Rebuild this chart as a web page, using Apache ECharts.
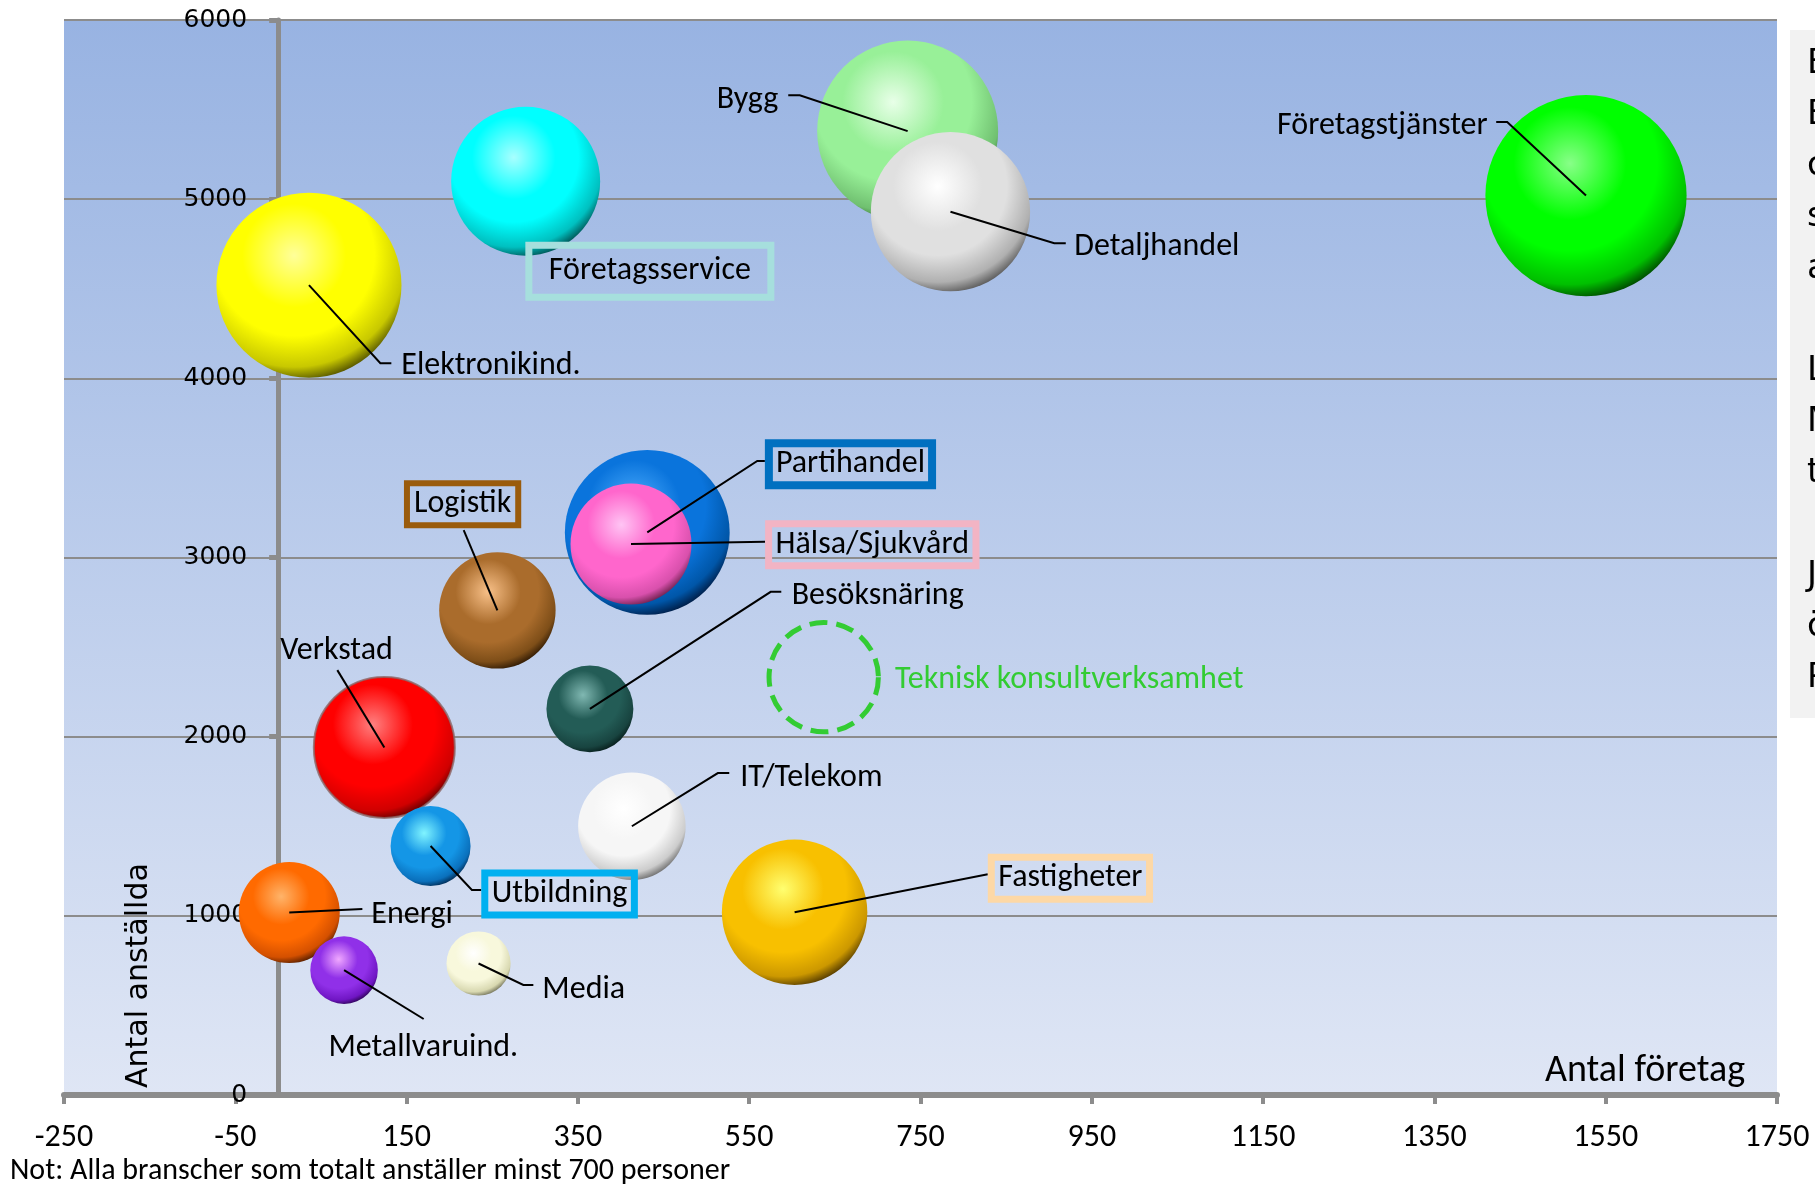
<!DOCTYPE html>
<html><head><meta charset="utf-8">
<script src="https://cdn.jsdelivr.net/npm/echarts@6/dist/echarts.min.js"></script>
<style>html,body{margin:0;padding:0;background:#fff;overflow:hidden}#c{width:1815px;height:1184px}</style>
</head><body><div id="c"></div>
<script>
// ---- data ----
const names = ['Elektronikind.','Företagsservice','Bygg','Detaljhandel','Företagstjänster','Partihandel','Hälsa/Sjukvård','Logistik','Besöksnäring','Verkstad','Utbildning','IT/Telekom','Fastigheter','Energi','Metallvaruind.','Media','Teknisk konsultverksamhet'];
const antalForetag = [36, 289, 735, 785, 1527, 431, 412, 256, 364, 124, 178, 413, 603, 13, 77, 234, 637];
const antalAnstallda = [4520, 5100, 5380, 4930, 5020, 3140, 3075, 2705, 2155, 1940, 1390, 1500, 1020, 1018, 697, 734, 2332];
const bubbleSize = [856, 555, 819, 634, 1012, 679, 366, 339, 189, 497, 160, 289, 529, 255, 114, 103, 299];
const xMin = -250, xMax = 1750, xStep = 200;
const yMin = 0, yMax = 6000, yStep = 1000;
const noteText = 'Not: Alla branscher som totalt anställer minst 700 personer';
const sideText = ['Bubblans storlek','Bubblorna','omsättningen','som andel','av totalen','','Ljusare färg','Markerad ram','tillväxt','','Jämförelse','över tid','Prognos'];

// ---- styles ----
const sphere = [
  ['#ffff9a','#ffff00','#c8c800','#3c3c00'],
  ['#a8ffff','#00ffff','#00c0c0','#003c3c'],
  ['#e8ffe8','#98f098','#70c070','#143c14'],
  ['#ffffff','#e0e0e0','#b0b0b0','#484848'],
  ['#88ff88','#00ff00','#00c000','#002e00'],
  ['#50b0ff','#0a74dc','#0056a8','#001030'],
  ['#ffc4f4','#ff66cc','#d850ac','#5a183c'],
  ['#f8c088','#aa6c2c','#7e4e18','#201000'],
  ['#80b8b2','#235c56','#184440','#041614'],
  ['#ff8080','#ff0000','#d00000','#400000'],
  ['#80f4ff','#1496e6','#0a70bc','#001e40'],
  ['#ffffff','#f6f6f6','#cccccc','#5c5c5c'],
  ['#ffff70','#f8c000','#cc9800','#3c2800'],
  ['#ffb46a','#ff6a00','#d45000','#3c1400'],
  ['#f0a8ff','#9030e8','#7016c4','#200040'],
  ['#ffffff','#f8f8dc','#d8d8b0','#60604a']
];
const FONT = "Carlito, 'Liberation Sans Narrow', 'Arial Narrow', sans-serif";
const TEXT_DY = 3;
const labelLayout = [
  {pts:[[71.4,78.1],[82.4,78.1]], tx:92.4, ty:78.1, align:'left'},
  {tx:124.2, ty:87, align:'center', box:{color:'#a6dfdd', w:7, pad:[10,20]}},
  {pts:[[-107.9,-35.8],[-119.4,-35.8]], tx:-129.4, ty:-34, align:'right'},
  {pts:[[103.8,31.5],[115.3,31.5]], tx:123.8, ty:32.5, align:'left'},
  {pts:[[-78.8,-73.6],[-89.8,-73.6]], tx:-98.3, ty:-72.3, align:'right'},
  {pts:[[110,-71.5],[117.6,-71.5]], tx:121.6, ty:-71.2, align:'left', box:{color:'#0070c0', w:8, pad:[5,7]}},
  {pts:[[134,-2.2]], tx:137.6, ty:-2.4, align:'left', box:{color:'#f2b4c4', w:7, pad:[5,7]}},
  {pts:[[-33.7,-80.2]], tx:-34.8, ty:-109.2, align:'center', box:{color:'#9a5b0c', w:6, pad:[5,7]}},
  {pts:[[180.8,-117.1],[191.4,-117.1]], tx:201.8, ty:-115.8, align:'left'},
  {pts:[[-47,-77.3]], tx:-47.8, ty:-99.3, align:'center'},
  {pts:[[41.3,44.1],[50.7,44.1]], tx:54.2, ty:45.1, align:'left', box:{color:'#00b0f0', w:7, pad:[5,7]}},
  {pts:[[86,-53.2],[97.4,-53.2]], tx:108.4, ty:-51.2, align:'left'},
  {pts:[[193.2,-38]], tx:196.7, ty:-37, align:'left', box:{color:'#fdd8a6', w:7, pad:[5,7]}},
  {pts:[[73.1,-3.6]], tx:82.1, ty:-0.9, align:'left'},
  {pts:[[79.6,48.9]], tx:79.2, ty:74.9, align:'center'},
  {pts:[[44.8,21.5],[54.8,21.5]], tx:63.8, ty:23.2, align:'left'},
  {tx:71.3, ty:-0.5, align:'left', color:'#33cc33'}
];

const bubbleData = names.map((n, i) => {
  const d = {name: n, value: [antalForetag[i], antalAnstallda[i], bubbleSize[i]]};
  if (i < sphere.length) {
    const s = sphere[i];
    d.itemStyle = {
      opacity: 1,
      color: {type:'radial', x:0.42, y:0.34, r:0.7, colorStops:[
        {offset:0, color:s[0]}, {offset:0.4, color:s[1]}, {offset:0.62, color:s[1]},
        {offset:0.86, color:s[2]}, {offset:1, color:s[3]}]},
      borderWidth: i === 9 ? 2 : 0,
      borderColor: 'rgba(140,100,100,0.8)'
    };
  } else {
    d.itemStyle = {opacity:1, color:'rgba(0,0,0,0)', borderColor:'#33cc33', borderWidth:5, borderType:[18,9]};
  }
  return d;
});

const GRID_L = 64, GRID_R = 38;
const plotW = 1815 - GRID_L - GRID_R;
const yAxisShift = (0 - xMin) / (xMax - xMin) * plotW;

const chart = echarts.init(document.getElementById('c'), null, {renderer:'canvas'});
chart.setOption({
  animation: false,
  grid: {left:GRID_L, right:GRID_R, top:20, bottom:89, show:true, borderWidth:0, containLabel:false, outerBoundsMode:'none',
    backgroundColor:{type:'linear', x:0, y:0, x2:0, y2:1, colorStops:[{offset:0,color:'#98b3e2'},{offset:1,color:'#dfe6f5'}]}},
  xAxis: {type:'value', min:xMin, max:xMax, interval:xStep,
    axisLine:{show:true, onZero:false, lineStyle:{color:'#8c8c8c', width:6}},
    axisTick:{show:true, length:9, lineStyle:{color:'#8c8c8c', width:4}},
    axisLabel:{color:'#000', fontSize:32, fontFamily:FONT, margin:27, formatter: v => String(v)},
    splitLine:{show:false}},
  yAxis: {type:'value', min:yMin, max:yMax, interval:yStep, position:'left', offset:-yAxisShift,
    axisLine:{show:true, onZero:false, lineStyle:{color:'#8c8c8c', width:5}},
    axisTick:{show:true, length:9, lineStyle:{color:'#8c8c8c', width:5}},
    axisLabel:{color:'#000', fontSize:25, fontFamily:'DejaVu Sans', margin:31, formatter: v => String(v)},
    splitLine:{show:true, lineStyle:{color:'#8c8c8c', width:2}}},
  series: [
    {type:'scatter', data:bubbleData, symbolSize: v => 2*Math.sqrt(v[2]*10), z:3, itemStyle:{opacity:1}},
    {type:'custom', data: names.map((n,i)=>[antalForetag[i], antalAnstallda[i]]), z:5, clip:false,
      renderItem: function(params, api) {
        const i = params.dataIndex;
        const c = api.coord([api.value(0), api.value(1)]);
        const L = labelLayout[i];
        const children = [];
        if (L.pts) {
          children.push({type:'polyline', shape:{points:[c].concat(L.pts.map(p=>[c[0]+p[0], c[1]+p[1]]))},
            style:{stroke:'#000', lineWidth:2, fill:null}});
        }
        const st = {text:names[i], x:c[0]+L.tx, y:c[1]+L.ty+TEXT_DY, align:L.align, verticalAlign:'middle',
          fontSize:32, fontFamily:FONT, fill:L.color || '#000'};
        if (L.box) { st.borderColor = L.box.color; st.borderWidth = L.box.w; st.padding = L.box.pad; }
        children.push({type:'text', style:st});
        return {type:'group', children:children};
      }}
  ],
  graphic: [
    {type:'text', left:1545, top:1052, style:{text:'Antal företag', fontSize:38, fontFamily:FONT, fill:'#000'}},
    {type:'text', x:139, y:1088, rotation:Math.PI/2, style:{text:'Antal anställda', fontSize:30, fontFamily:'DejaVu Sans', fill:'#000', align:'left', verticalAlign:'middle'}},
    {type:'text', left:10, top:1156, style:{text:noteText, fontSize:30, fontFamily:FONT, fill:'#000'}},
    {type:'rect', shape:{x:1790, y:30, width:40, height:688}, style:{fill:'#f2f2f2'}},
    {type:'group', children: sideText.map((t, k) => ({type:'text', x:1807, y:64 + k*51.2,
      style:{text:t, fontSize:34, fontFamily:'DejaVu Sans', fill:'#000', verticalAlign:'middle'}}))}
  ]
});
</script></body></html>
